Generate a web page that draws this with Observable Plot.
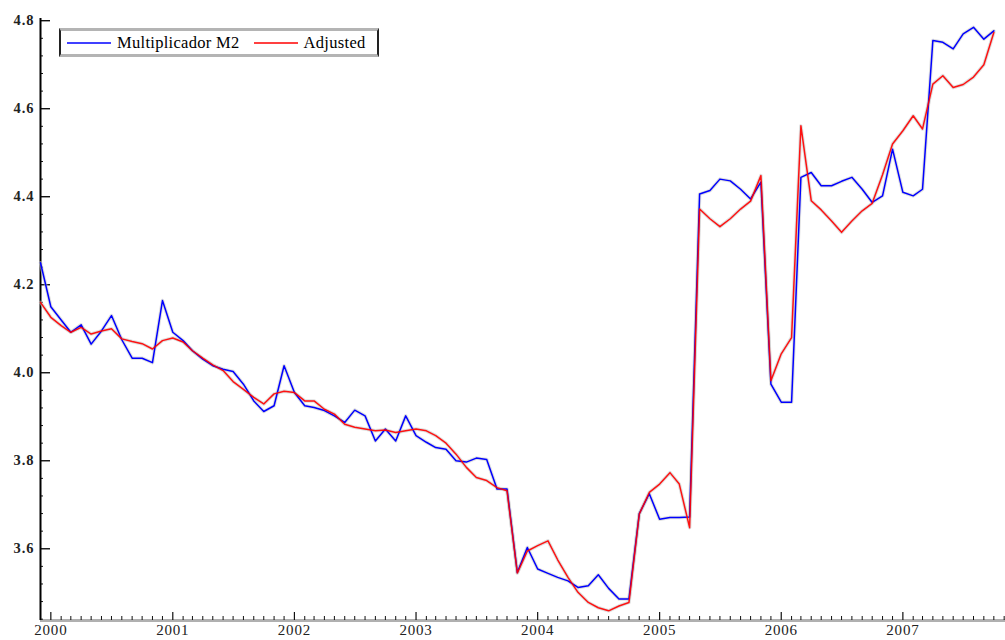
<!DOCTYPE html>
<html><head><meta charset="utf-8">
<script src="https://cdn.jsdelivr.net/npm/d3@7"></script>
<script src="https://cdn.jsdelivr.net/npm/@observablehq/plot@0.6"></script>
<style>
body{margin:0;background:#fff;}
#wrap{position:relative;width:1005px;height:640px;}
#legend{position:absolute;left:59px;top:28px;width:316px;height:23px;border-left:2px solid #222;border-right:2px solid #222;border-top:3px solid #b4b4b4;border-bottom:3px solid #b4b4b4;background:#fff;font-family:"Liberation Serif",serif;font-size:16.5px;letter-spacing:0.3px;color:#000;display:flex;align-items:center;}
#legend .sw{display:inline-block;width:44px;height:2px;margin:0 6px 0 6px;opacity:0.75;}
.xl text{letter-spacing:0.8px;}
.yl text{letter-spacing:1px;}
</style></head><body><div id="wrap"><div id="legend"></div></div>
<script>
const seriesNames = ["Multiplicador M2", "Adjusted"];
const seriesColors = ["#0000ff", "#ff0000"];
const blue = [4.25,4.15,4.12,4.092,4.109,4.065,4.095,4.13,4.075,4.033,
4.033,4.023,4.164,4.092,4.073,4.05,4.031,4.016,4.008,4.003,
3.974,3.936,3.912,3.925,4.016,3.955,3.925,3.921,3.914,3.902,
3.887,3.915,3.902,3.845,3.872,3.845,3.902,3.857,3.842,3.830,
3.826,3.80,3.797,3.806,3.803,3.736,3.736,3.546,3.603,3.554,
3.544,3.535,3.527,3.512,3.516,3.541,3.51,3.486,3.486,3.68,
3.725,3.667,3.671,3.671,3.672,4.406,4.414,4.44,4.436,4.417,
4.395,4.433,3.974,3.933,3.933,4.444,4.455,4.425,4.425,4.435,
4.444,4.417,4.387,4.402,4.508,4.41,4.402,4.417,4.755,4.751,
4.736,4.77,4.785,4.758,4.777];
const red = [4.16,4.126,4.107,4.092,4.103,4.088,4.095,4.10,4.077,4.071,
4.066,4.054,4.073,4.079,4.07,4.05,4.033,4.018,4.005,3.98,
3.962,3.944,3.929,3.952,3.958,3.955,3.936,3.936,3.917,3.906,
3.883,3.876,3.872,3.868,3.87,3.864,3.868,3.872,3.868,3.857,
3.84,3.815,3.785,3.762,3.755,3.739,3.732,3.545,3.595,3.607,
3.618,3.575,3.535,3.501,3.478,3.466,3.459,3.470,3.478,3.679,
3.728,3.747,3.773,3.747,3.648,4.372,4.35,4.332,4.35,4.372,
4.39,4.448,3.982,4.043,4.08,4.561,4.391,4.37,4.345,4.319,
4.345,4.368,4.385,4.45,4.52,4.55,4.584,4.554,4.656,4.675,
4.648,4.655,4.672,4.70,4.773];
const yMajor = [3.6,3.8,4.0,4.2,4.4,4.6,4.8];
const yMinor = d3.range(3.44, 4.801, 0.04);
const yearTicks = d3.utcYear.range(new Date("2000-01-01"), new Date("2008-01-01"));
const monthTicks = d3.utcMonth.range(new Date("1999-12-01"), new Date("2007-11-05"));
const months = d3.utcMonth.range(new Date("1999-12-01"), new Date("2007-11-01"));

const xDomain = [new Date("1999-12-01"), new Date("2007-11-05")];
const yDomain = [3.437, 4.805];
const H = 640, mT = 18, mB = 20;
const uPerPx = (yDomain[1]-yDomain[0])/(H-mT-mB);
const x0 = xDomain[0], y0 = yDomain[0];

const rows = months.map((d,i)=>({date:d, value:blue[i], series:seriesNames[0]}));
const rowsR = months.map((d,i)=>({date:d, value:red[i], series:seriesNames[1]}));
const yearSet = new Set(yearTicks.map(d=>+d));
const minorX = monthTicks.filter(d=>!yearSet.has(+d));
const minorY = yMinor.filter(v=>!yMajor.some(m=>Math.abs(m-v)<1e-6));
const serif = "Liberation Serif, Times New Roman, serif";

const chart = Plot.plot({
  width: 1005, height: H,
  marginLeft: 40, marginRight: 0, marginTop: mT, marginBottom: mB,
  style: {fontFamily: serif, background: "#fff"},
  x: {type: "utc", domain: xDomain},
  y: {domain: yDomain},
  marks: [
    Plot.ruleY([y0], {stroke: "#b0b0b0", strokeWidth: 3}),
    Plot.ruleX(minorX, {x: d=>d, y1: y0, y2: y0 + 4*uPerPx, stroke: "#111"}),
    Plot.ruleX(yearTicks, {x: d=>d, y1: y0, y2: y0 + 8*uPerPx, stroke: "#111", strokeWidth: 1.2}),
    Plot.ruleY(minorY, {y: d=>d, x1: x0, x2: d3.utcDay.offset(x0, 9), stroke: "#111"}),
    Plot.ruleY(yMajor, {y: d=>d, x1: x0, x2: d3.utcDay.offset(x0, 30), stroke: "#111", strokeWidth: 1.4}),
    Plot.ruleX([x0], {stroke: "#000", strokeWidth: 2}),
    Plot.line(rows, {x: "date", y: "value", stroke: "#c4c4c4", strokeWidth: 3.5, strokeOpacity: 0.55}),
    Plot.line(rowsR, {x: "date", y: "value", stroke: "#c4c4c4", strokeWidth: 3.5, strokeOpacity: 0.55}),
    Plot.line(rows, {x: "date", y: "value", stroke: seriesColors[0], strokeWidth: 1.5}),
    Plot.line(rowsR, {x: "date", y: "value", stroke: seriesColors[1], strokeWidth: 1.5, strokeOpacity: 0.92}),
    Plot.axisX({ticks: yearTicks, tickSize: 0, tickPadding: 4, tickFormat: d3.utcFormat("%Y"), fontSize: 15, fill: "#222", label: null, className: "xl"}),
    Plot.axisY({ticks: yMajor, tickSize: 0, tickPadding: 6, tickFormat: d3.format(".1f"), fontSize: 14.5, fontWeight: "bold", fill: "#222", label: null, className: "yl"})
  ]
});
const wrap = document.getElementById("wrap");
wrap.insertBefore(chart, wrap.firstChild);
const legend = document.getElementById("legend");
seriesNames.forEach((n,i)=>{
  const sw = document.createElement("span");
  sw.className = "sw";
  sw.style.background = seriesColors[i];
  if (i===1) sw.style.marginLeft = "14px";
  legend.appendChild(sw);
  const t = document.createElement("span");
  t.textContent = n;
  legend.appendChild(t);
});
</script></body></html>
